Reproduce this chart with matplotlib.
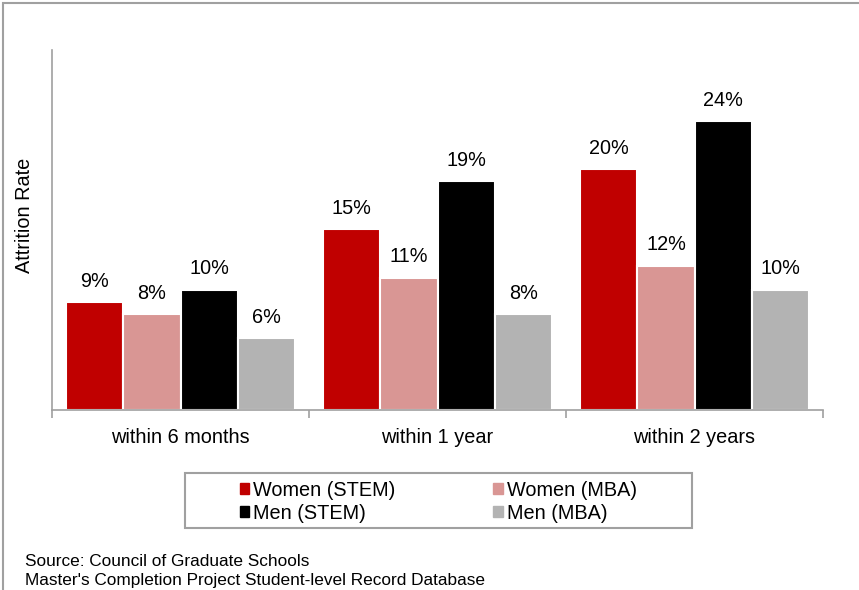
import matplotlib.pyplot as plt
import numpy as np
from matplotlib.patches import Rectangle

plt.rcParams['font.family'] = ['Liberation Sans', 'DejaVu Sans']

categories = ['within 6 months', 'within 1 year', 'within 2 years']
series_names = ['Women (STEM)', 'Women (MBA)', 'Men (STEM)', 'Men (MBA)']
women_stem = [9, 15, 20]
women_mba = [8, 11, 12]
men_stem = [10, 19, 24]
men_mba = [6, 8, 10]
colors = ['#C00000', '#D99694', '#000000', '#B3B3B3']

fig = plt.figure(figsize=(8.59, 5.9), dpi=100)
ax = fig.add_axes([52 / 859, 1 - 410 / 590, 771 / 859, 360 / 590])

x = np.arange(len(categories))
width = 0.222
values = [women_stem, women_mba, men_stem, men_mba]
for i, (vals, name, c) in enumerate(zip(values, series_names, colors)):
    pos = x + (i - 1.5) * width
    bars = ax.bar(pos, vals, width, color=c, edgecolor='white', linewidth=1.5,
                  label=name, zorder=2)
    for b, v in zip(bars, vals):
        ax.annotate(f'{v}%', (b.get_x() + b.get_width() / 2, v),
                    xytext=(0, 8), textcoords='offset points',
                    ha='center', va='bottom', fontsize=14.3)

ax.set_xlim(-0.5, 2.5)
ax.set_ylim(0, 29.9)
ax.set_yticks([])
ax.set_xticks([-0.5, 0.5, 1.5, 2.5])
ax.set_xticklabels([])
ax.set_xticks(x, minor=True)
ax.set_xticklabels(categories, minor=True, fontsize=14.3)
ax.tick_params(axis='x', which='minor', length=0, pad=13)
ax.tick_params(axis='x', which='major', length=6, color='#A0A0A0', width=1.2)
for s in ['top', 'right']:
    ax.spines[s].set_visible(False)
ax.spines['left'].set_color('#A0A0A0')
ax.spines['bottom'].set_color('#A0A0A0')
ax.spines['left'].set_linewidth(1.2)
ax.spines['bottom'].set_linewidth(1.2)

fig.text(25 / 859, 1 - 215 / 590, 'Attrition Rate', rotation=90,
         ha='center', va='center', fontsize=14.3)

# legend: row-major order -> reorder for matplotlib's column-major fill
order = [0, 2, 1, 3]
leg_handles = [Rectangle((0, 0), 1, 1, color=colors[k]) for k in order]
leg = fig.legend(leg_handles, [series_names[k] for k in order],
                 loc='upper left', bbox_to_anchor=(230 / 859, 1 - 471 / 590),
                 ncol=2, fontsize=14.3, frameon=False,
                 handlelength=0.48, handleheight=0.48, handletextpad=0.2,
                 columnspacing=4.9, labelspacing=0.2, borderpad=0)
fig.patches.append(Rectangle((185 / 859, 1 - 528 / 590), 507 / 859, 55 / 590,
                             transform=fig.transFigure, fill=False,
                             edgecolor='#A0A0A0', linewidth=1.5))

fig.text(25 / 859, 1 - 561 / 590, 'Source: Council of Graduate Schools',
         ha='left', va='center', fontsize=12.4)
fig.text(25 / 859, 1 - 580 / 590,
         "Master's Completion Project Student-level Record Database",
         ha='left', va='center', fontsize=12.4)

# outer border of the chart area
fig.patches.append(Rectangle((3 / 859, -0.05), 1.2, 1.05 - 3 / 590,
                             transform=fig.transFigure, fill=False,
                             edgecolor='#A0A0A0', linewidth=1.5))

fig.savefig('out.png', dpi=100)
